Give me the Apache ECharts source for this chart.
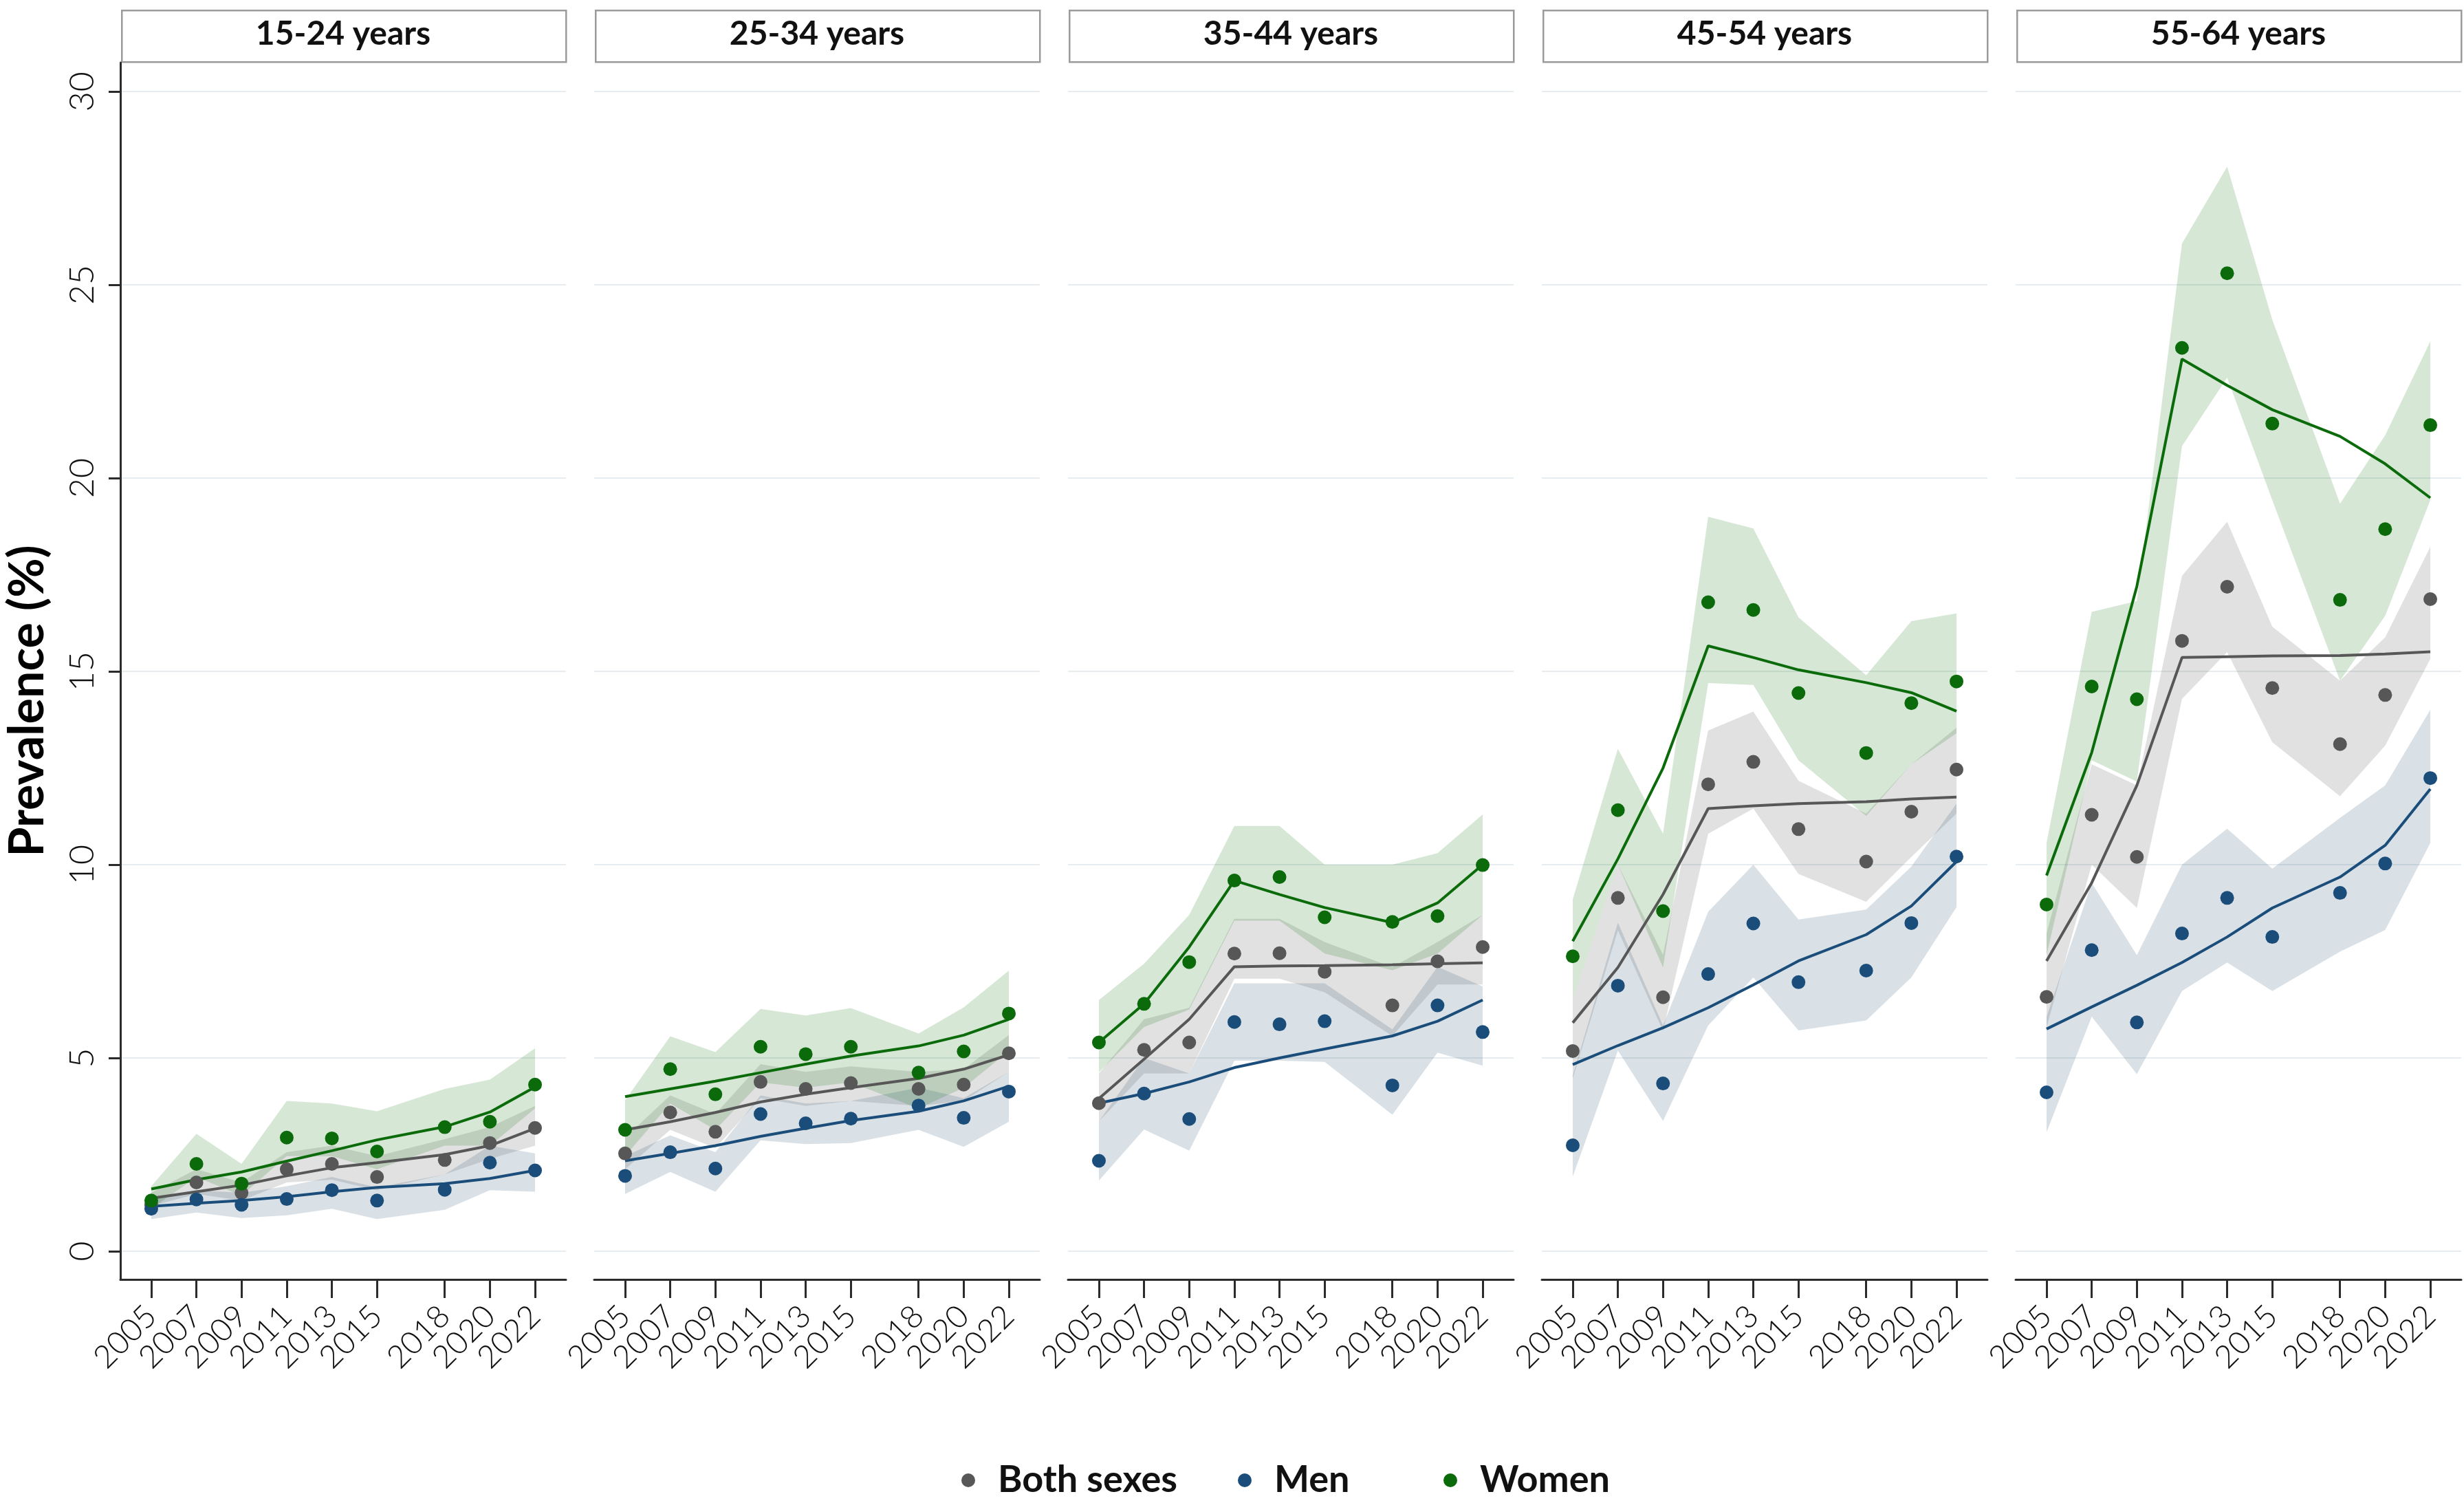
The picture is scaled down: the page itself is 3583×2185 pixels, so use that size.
<!DOCTYPE html>
<html>
<head>
<meta charset="utf-8">
<script src="https://cdn.jsdelivr.net/npm/echarts@6/dist/echarts.min.js"></script>
<style>
  html, body { margin: 0; padding: 0; background: #fff; }
  #chart { width: 3583px; height: 2185px; }
</style>
</head>
<body>
<div id="chart"></div>
<script>
// survey years and panels
const years = [2005, 2007, 2009, 2011, 2013, 2015, 2018, 2020, 2022];
const ageGroups = ['15-24 years', '25-34 years', '35-44 years', '45-54 years', '55-64 years'];
const yTicks = [0, 5, 10, 15, 20, 25, 30];
const sexes = ['Both sexes', 'Men', 'Women'];

// observed prevalence (dots), one row per age group
const obsBoth = [
  [1.2, 1.78, 1.51, 2.12, 2.26, 1.92, 2.36, 2.8, 3.19],
  [2.53, 3.59, 3.09, 4.38, 4.2, 4.35, 4.2, 4.31, 5.12],
  [3.83, 5.21, 5.4, 7.7, 7.71, 7.23, 6.36, 7.5, 7.87],
  [5.18, 9.14, 6.57, 12.08, 12.66, 10.92, 10.08, 11.37, 12.46],
  [6.58, 11.29, 10.2, 15.79, 17.19, 14.57, 13.12, 14.39, 16.87]
];
const obsMen = [
  [1.1, 1.34, 1.2, 1.35, 1.58, 1.31, 1.59, 2.29, 2.09],
  [1.95, 2.56, 2.14, 3.55, 3.31, 3.43, 3.77, 3.45, 4.13],
  [2.34, 4.08, 3.42, 5.93, 5.87, 5.95, 4.29, 6.36, 5.67],
  [2.74, 6.87, 4.34, 7.17, 8.48, 6.96, 7.26, 8.49, 10.21],
  [4.11, 7.79, 5.92, 8.22, 9.14, 8.13, 9.27, 10.03, 12.24]
];
const obsWomen = [
  [1.31, 2.26, 1.75, 2.94, 2.92, 2.58, 3.21, 3.35, 4.31],
  [3.14, 4.71, 4.06, 5.29, 5.1, 5.29, 4.62, 5.17, 6.15],
  [5.4, 6.4, 7.48, 9.59, 9.68, 8.64, 8.52, 8.67, 9.99],
  [7.63, 11.41, 8.8, 16.79, 16.59, 14.44, 12.89, 14.18, 14.74],
  [8.97, 14.61, 14.28, 23.37, 25.3, 21.41, 16.85, 18.68, 21.37]
];

// fitted trend (lines)
const fitBoth = [
  [1.37, 1.54, 1.71, 1.95, 2.16, 2.29, 2.5, 2.73, 3.18],
  [3.14, 3.35, 3.59, 3.86, 4.06, 4.23, 4.47, 4.71, 5.08],
  [3.95, 4.97, 6.0, 7.36, 7.38, 7.39, 7.41, 7.44, 7.46],
  [5.91, 7.34, 9.23, 11.45, 11.52, 11.58, 11.63, 11.7, 11.75],
  [7.51, 9.53, 12.05, 15.36, 15.38, 15.4, 15.41, 15.45, 15.51]
];
const fitMen = [
  [1.16, 1.24, 1.31, 1.41, 1.54, 1.65, 1.75, 1.88, 2.09],
  [2.34, 2.53, 2.73, 2.97, 3.18, 3.38, 3.62, 3.89, 4.27],
  [3.83, 4.08, 4.38, 4.75, 5.0, 5.23, 5.57, 5.95, 6.5],
  [4.83, 5.32, 5.78, 6.3, 6.89, 7.51, 8.19, 8.93, 10.08],
  [5.75, 6.32, 6.88, 7.47, 8.13, 8.88, 9.68, 10.5, 11.96]
];
const fitWomen = [
  [1.61, 1.85, 2.05, 2.33, 2.6, 2.88, 3.22, 3.6, 4.25],
  [4.0, 4.2, 4.4, 4.62, 4.84, 5.05, 5.31, 5.59, 6.0],
  [5.4, 6.4, 7.87, 9.59, 9.23, 8.89, 8.5, 9.01, 10.0],
  [8.02, 10.15, 12.5, 15.66, 15.36, 15.04, 14.71, 14.45, 13.97],
  [9.72, 12.9, 17.2, 23.08, 22.4, 21.77, 21.08, 20.37, 19.49]
];

// 95% CI bands
const loBoth = [
  [1.17, 1.48, 1.31, 1.78, 1.85, 1.58, 1.99, 2.39, 2.73],
  [2.12, 3.14, 2.67, 3.96, 3.76, 3.89, 3.76, 3.89, 4.64],
  [3.36, 4.6, 4.6, 7.05, 7.05, 6.7, 5.57, 6.9, 6.9],
  [4.47, 8.3, 5.7, 10.8, 11.45, 9.76, 9.04, 10.2, 11.32],
  [5.79, 10.0, 8.88, 14.29, 15.5, 13.17, 11.77, 13.08, 15.32]
];
const hiBoth = [
  [1.51, 2.12, 1.78, 2.56, 2.73, 2.46, 2.9, 3.21, 3.76],
  [2.94, 4.03, 3.55, 4.84, 4.64, 4.78, 4.64, 4.71, 5.59],
  [4.6, 6.0, 6.3, 8.6, 8.6, 8.0, 7.35, 8.0, 8.7],
  [6.5, 10.0, 7.67, 13.47, 13.96, 12.17, 11.32, 12.6, 13.54],
  [8.22, 12.6, 12.05, 17.47, 18.87, 16.16, 14.76, 15.88, 18.22]
];
const loMen = [
  [0.83, 1.0, 0.86, 0.93, 1.1, 0.83, 1.07, 1.58, 1.54],
  [1.48, 2.05, 1.54, 2.87, 2.77, 2.8, 3.14, 2.7, 3.35],
  [1.83, 3.15, 2.6, 4.93, 4.93, 4.9, 3.53, 5.14, 4.8],
  [1.93, 5.19, 3.37, 5.84, 7.08, 5.71, 5.97, 7.08, 8.9],
  [3.08, 6.07, 4.58, 6.73, 7.47, 6.73, 7.75, 8.31, 10.56]
];
const hiMen = [
  [1.37, 1.58, 1.51, 1.68, 1.92, 1.65, 1.99, 2.73, 2.53],
  [2.46, 3.0, 2.56, 4.03, 3.82, 3.89, 4.23, 3.96, 4.64],
  [3.36, 5.0, 4.6, 6.93, 6.93, 6.93, 5.74, 7.36, 6.85],
  [4.54, 8.5, 5.84, 8.78, 10.0, 8.58, 8.84, 9.95, 11.58],
  [6.07, 9.53, 7.66, 10.0, 10.93, 9.9, 11.21, 12.05, 14.01]
];
const loWomen = [
  [1.1, 1.92, 1.44, 2.46, 2.46, 2.12, 2.73, 2.73, 3.69],
  [2.46, 3.82, 3.14, 4.37, 4.23, 4.37, 3.69, 4.23, 5.18],
  [4.63, 5.8, 6.25, 8.55, 8.55, 7.7, 7.27, 7.7, 8.7],
  [6.5, 10.0, 7.34, 14.7, 14.65, 12.7, 11.26, 12.6, 13.4],
  [7.66, 12.7, 12.15, 20.83, 22.6, 19.43, 14.76, 16.44, 19.43]
];
const hiWomen = [
  [1.68, 3.04, 2.26, 3.89, 3.82, 3.62, 4.2, 4.44, 5.25],
  [3.9, 5.56, 5.15, 6.27, 6.1, 6.29, 5.63, 6.31, 7.26],
  [6.5, 7.44, 8.7, 11.0, 11.0, 10.0, 10.0, 10.3, 11.3],
  [9.1, 13.0, 10.8, 19.0, 18.7, 16.4, 14.9, 16.3, 16.5],
  [10.56, 16.54, 16.82, 26.07, 28.06, 24.1, 19.34, 21.11, 23.54]
];

const groups = [
  { name: 'Both sexes', obs: obsBoth, fit: fitBoth, lo: loBoth, hi: hiBoth, color: '#575757', band: 'rgba(90,90,90,0.18)' },
  { name: 'Men', obs: obsMen, fit: fitMen, lo: loMen, hi: hiMen, color: '#1b4d7a', band: 'rgba(30,75,115,0.17)' },
  { name: 'Women', obs: obsWomen, fit: fitWomen, lo: loWomen, hi: hiWomen, color: '#0b6b0b', band: 'rgba(10,110,10,0.17)' }
];

const panelLeft = [175, 864, 1553, 2242, 2931];
const panelW = 648;
const axisColor = '#2b2b2b';
const gridColor = '#e6ecef';
const tickFont = 'Lato';

const grids = [], xAxes = [], yAxes = [], series = [], graphics = [];

// band drawn as one polygon: upper edge forward, lower edge back
function bandRenderer(color) {
  return function (params, api) {
    if (params.dataIndex !== 0) return null;
    const n = params.dataInsideLength;
    const up = [], down = [];
    for (let k = 0; k < n; k++) {
      up.push(api.coord([api.value(0, k), api.value(2, k)]));
      down.unshift(api.coord([api.value(0, k), api.value(1, k)]));
    }
    return {
      type: 'polygon',
      shape: { points: up.concat(down) },
      style: { fill: color }
    };
  };
}

ageGroups.forEach(function (label, i) {
  grids.push({ left: panelLeft[i], top: 91, width: panelW, height: 1769 });

  xAxes.push({
    type: 'value', gridIndex: i, min: 2003.63, max: 2023.37,
    axisLine: { onZero: false, lineStyle: { color: axisColor, width: 3 } },
    axisTick: { customValues: years, length: 27, lineStyle: { color: axisColor, width: 3 } },
    axisLabel: {
      customValues: years, rotate: 45, margin: 46,
      showMinLabel: true, showMaxLabel: true, hideOverlap: false,
      fontFamily: tickFont, fontWeight: 300, fontSize: 46, color: '#111',
      formatter: function (v) { return String(v); }
    },
    splitLine: { show: false }
  });

  const first = i === 0;
  yAxes.push({
    type: 'value', gridIndex: i, min: -0.73, max: 30.75,
    axisLine: { show: first, onZero: false, lineStyle: { color: axisColor, width: 3 } },
    axisTick: { show: first, customValues: yTicks, length: 17, lineStyle: { color: axisColor, width: 3 } },
    axisLabel: {
      show: first, customValues: yTicks, rotate: 90, margin: 30,
      fontFamily: tickFont, fontWeight: 300, fontSize: 50, color: '#111'
    },
    splitLine: { show: true, lineStyle: { color: gridColor, width: 2 } }
  });

  // CI bands
  groups.forEach(function (g) {
    series.push({
      type: 'custom', name: g.name + ' CI', xAxisIndex: i, yAxisIndex: i,
      silent: true, z: 1, clip: true,
      renderItem: bandRenderer(g.band),
      encode: { x: 0, y: [1, 2] },
      data: years.map(function (y, k) { return [y, g.lo[i][k], g.hi[i][k]]; })
    });
  });

  // fitted lines
  groups.forEach(function (g) {
    series.push({
      type: 'line', name: g.name + ' fit', xAxisIndex: i, yAxisIndex: i,
      symbol: 'none', silent: true, z: 3,
      lineStyle: { color: g.color, width: 4 },
      data: years.map(function (y, k) { return [y, g.fit[i][k]]; })
    });
  });

  // observed points
  groups.forEach(function (g) {
    series.push({
      type: 'scatter', name: g.name, xAxisIndex: i, yAxisIndex: i,
      symbolSize: 20, z: 4,
      itemStyle: { color: g.color, opacity: 1 },
      data: years.map(function (y, k) { return [y, g.obs[i][k]]; })
    });
  });

  // panel header strip
  graphics.push({
    type: 'rect', left: panelLeft[i] + 1, top: 14,
    shape: { width: panelW - 2, height: 75 },
    style: { fill: '#fff', stroke: '#9b9b9b', lineWidth: 2.5 }
  });
  graphics.push({
    type: 'text', x: panelLeft[i] + panelW / 2, y: 50,
    style: {
      text: label, font: 'bold 48px Lato', fill: '#111',
      align: 'center', verticalAlign: 'middle'
    }
  });
});

graphics.push({
  type: 'text', x: 40, y: 1019, rotation: Math.PI / 2,
  style: {
    text: 'Prevalence (%)', font: 'bold 70px Lato', fill: '#000',
    align: 'center', verticalAlign: 'middle'
  }
});

const legendCenters = [1403, 1805, 2104];
const legends = sexes.map(function (s, k) {
  return {
    data: [{ name: s, icon: 'circle' }],
    left: legendCenters[k] - 10, top: 2120,
    itemWidth: 20, itemHeight: 20, itemGap: 0,
    textStyle: { fontFamily: 'Lato', fontWeight: 'bold', fontSize: 54, color: '#111', padding: [0, 0, 0, 28] },
    selectedMode: false
  };
});

const chart = echarts.init(document.getElementById('chart'));
chart.setOption({
  animation: false,
  backgroundColor: '#fff',
  grid: grids,
  xAxis: xAxes,
  yAxis: yAxes,
  legend: legends,
  graphic: graphics,
  series: series
});
</script>
</body>
</html>
